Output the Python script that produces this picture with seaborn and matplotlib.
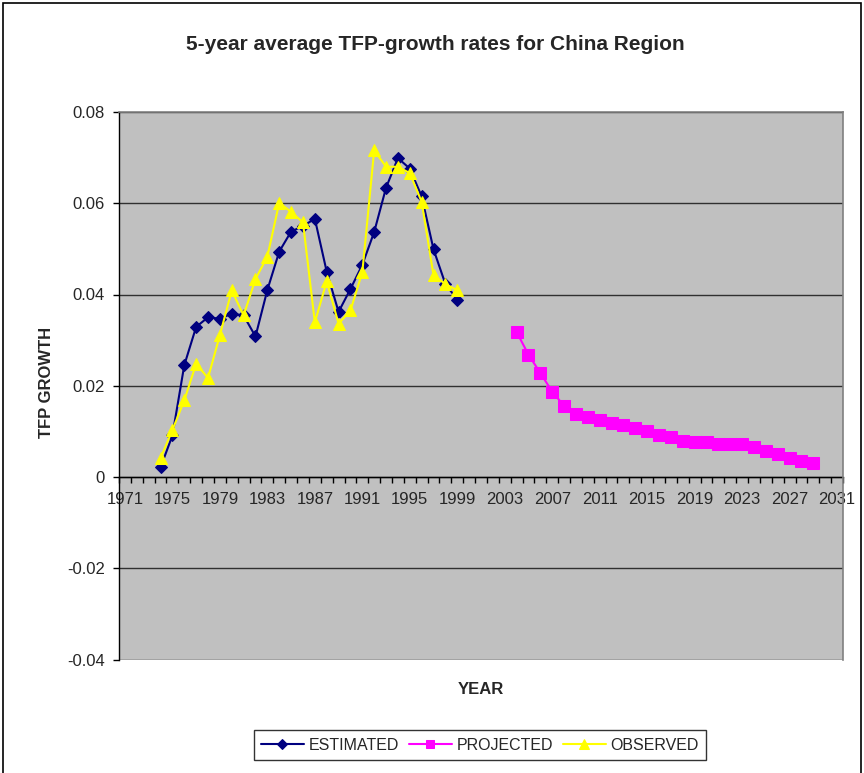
import numpy as np
import pandas as pd
import seaborn as sns
import matplotlib.pyplot as plt
from matplotlib.patches import Rectangle
from matplotlib.transforms import Bbox, TransformedBbox
from matplotlib.ticker import FixedLocator, FixedFormatter

sns.set_style("white")
plt.rcParams["font.family"] = ["Liberation Sans", "DejaVu Sans"]

# values
est_years = list(range(1974, 2000))
est_vals = [0.0021, 0.0091, 0.0245, 0.0329, 0.0350, 0.0347, 0.0358, 0.0354,
            0.0308, 0.0410, 0.0494, 0.0538, 0.0550, 0.0566, 0.0450, 0.0362,
            0.0412, 0.0465, 0.0537, 0.0634, 0.0699, 0.0676, 0.0615, 0.0499,
            0.0423, 0.0389]

proj_years = list(range(2004, 2030))
proj_vals = [0.0318, 0.0268, 0.0228, 0.0187, 0.0156, 0.0138, 0.0131, 0.0124,
             0.0118, 0.0114, 0.0107, 0.0100, 0.0093, 0.0087, 0.0080, 0.0077,
             0.0077, 0.0073, 0.0073, 0.0073, 0.0066, 0.0058, 0.0051, 0.0042,
             0.0035, 0.0031]

obs_years = list(range(1974, 2000))
obs_vals = [0.0041, 0.0103, 0.0168, 0.0248, 0.0217, 0.0311, 0.0409, 0.0354,
            0.0434, 0.0483, 0.0601, 0.0581, 0.0558, 0.0339, 0.0429, 0.0336,
            0.0365, 0.0449, 0.0716, 0.0680, 0.0680, 0.0666, 0.0603, 0.0442,
            0.0423, 0.0409]

year_ticks = [1971, 1975, 1979, 1983, 1987, 1991, 1995, 1999, 2003, 2007,
              2011, 2015, 2019, 2023, 2027, 2031]
y_ticks = [-0.04, -0.02, 0, 0.02, 0.04, 0.06, 0.08]
y_labels = ["-0.04", "-0.02", "0", "0.02", "0.04", "0.06", "0.08"]

est = pd.DataFrame({"year": est_years, "tfp": est_vals})
proj = pd.DataFrame({"year": proj_years, "tfp": proj_vals})
obs = pd.DataFrame({"year": obs_years, "tfp": obs_vals})

W, H = 864, 773
fig = plt.figure(figsize=(W / 100, H / 100), dpi=100)
ax = fig.add_axes([119 / W, 1 - 659.5 / H, 724 / W, (659.5 - 112) / H])
ax.set_facecolor("#C0C0C0")

sns.lineplot(data=est, x="year", y="tfp", ax=ax, color="#000080", lw=1.5,
             marker="D", markersize=6.5, markeredgecolor="#000080",
             label="ESTIMATED", legend=False, zorder=3)
sns.lineplot(data=proj, x="year", y="tfp", ax=ax, color="#FF00FF", lw=1.5,
             marker="s", markersize=8, markeredgecolor="#FF00FF",
             label="PROJECTED", legend=False, zorder=3)
sns.lineplot(data=obs, x="year", y="tfp", ax=ax, color="#FFFF00", lw=1.5,
             marker="^", markersize=9, markeredgecolor="#FFFF00",
             label="OBSERVED", legend=False, zorder=4)

ax.set_xlim(1970.5, 2031.5)
ax.set_ylim(-0.04, 0.08)

# horizontal gridlines
for v in y_ticks:
    ax.axhline(v, color="#303030", lw=1.0, zorder=1)

for s in ["top", "right"]:
    ax.spines[s].set_color("#808080")
    ax.spines[s].set_linewidth(1.2)
ax.spines["left"].set_color("black")
ax.spines["left"].set_linewidth(1.0)
ax.spines["bottom"].set_position(("data", 0))
ax.spines["bottom"].set_color("black")
ax.spines["bottom"].set_linewidth(1.0)
ax.spines["bottom"].set_zorder(2)

ax.xaxis.set_major_locator(FixedLocator(year_ticks))
ax.xaxis.set_major_formatter(FixedFormatter([str(y) for y in year_ticks]))
ax.xaxis.set_minor_locator(FixedLocator(np.arange(1970.5, 2032, 1.0)))
ax.tick_params(axis="x", which="major", length=0, pad=11, labelsize=12)
ax.tick_params(axis="x", which="minor", length=4, width=1, direction="out",
               color="black", bottom=True)

ax.yaxis.set_major_locator(FixedLocator(y_ticks))
ax.yaxis.set_major_formatter(FixedFormatter(y_labels))
ax.tick_params(axis="y", length=4, width=1, direction="out", pad=6,
               labelsize=12, color="black", left=True)

ax.set_xlabel("")
ax.set_ylabel("")

fig.text(435 / W, 1 - 45 / H, "5-year average TFP-growth rates for China Region",
         ha="center", va="center", fontsize=15, fontweight="bold")
fig.text(481 / W, 1 - 690 / H, "YEAR", ha="center", va="center",
         fontsize=12, fontweight="bold")
yl = fig.text(47 / W, 1 - 438 / H, "TFP GROWTH RATE", ha="center", va="bottom",
              rotation=90, fontsize=12, fontweight="bold")
yl.set_clip_box(TransformedBbox(Bbox([[0, 0], [1, 1 - 324 / H]]), fig.transFigure))
yl.set_clip_on(True)

handles = [h for h in ax.get_lines() if h.get_label() in
           ("ESTIMATED", "PROJECTED", "OBSERVED")]
leg = fig.legend(handles=handles, loc="center",
                 bbox_to_anchor=(480 / W, 1 - 745 / H), ncol=3,
                 fontsize=11.5, frameon=True, fancybox=False, edgecolor="black",
                 handlelength=2.7, handletextpad=0.3, columnspacing=0.6,
                 borderpad=0.45, borderaxespad=0, markerscale=0.8)
leg.get_frame().set_linewidth(1.0)

fig.patches.append(Rectangle((3 / W, -0.01), 858 / W, 1 - 3 / H + 0.01,
                             transform=fig.transFigure, fill=False,
                             edgecolor="black", lw=1.2))

fig.savefig("out.png", dpi=100)
